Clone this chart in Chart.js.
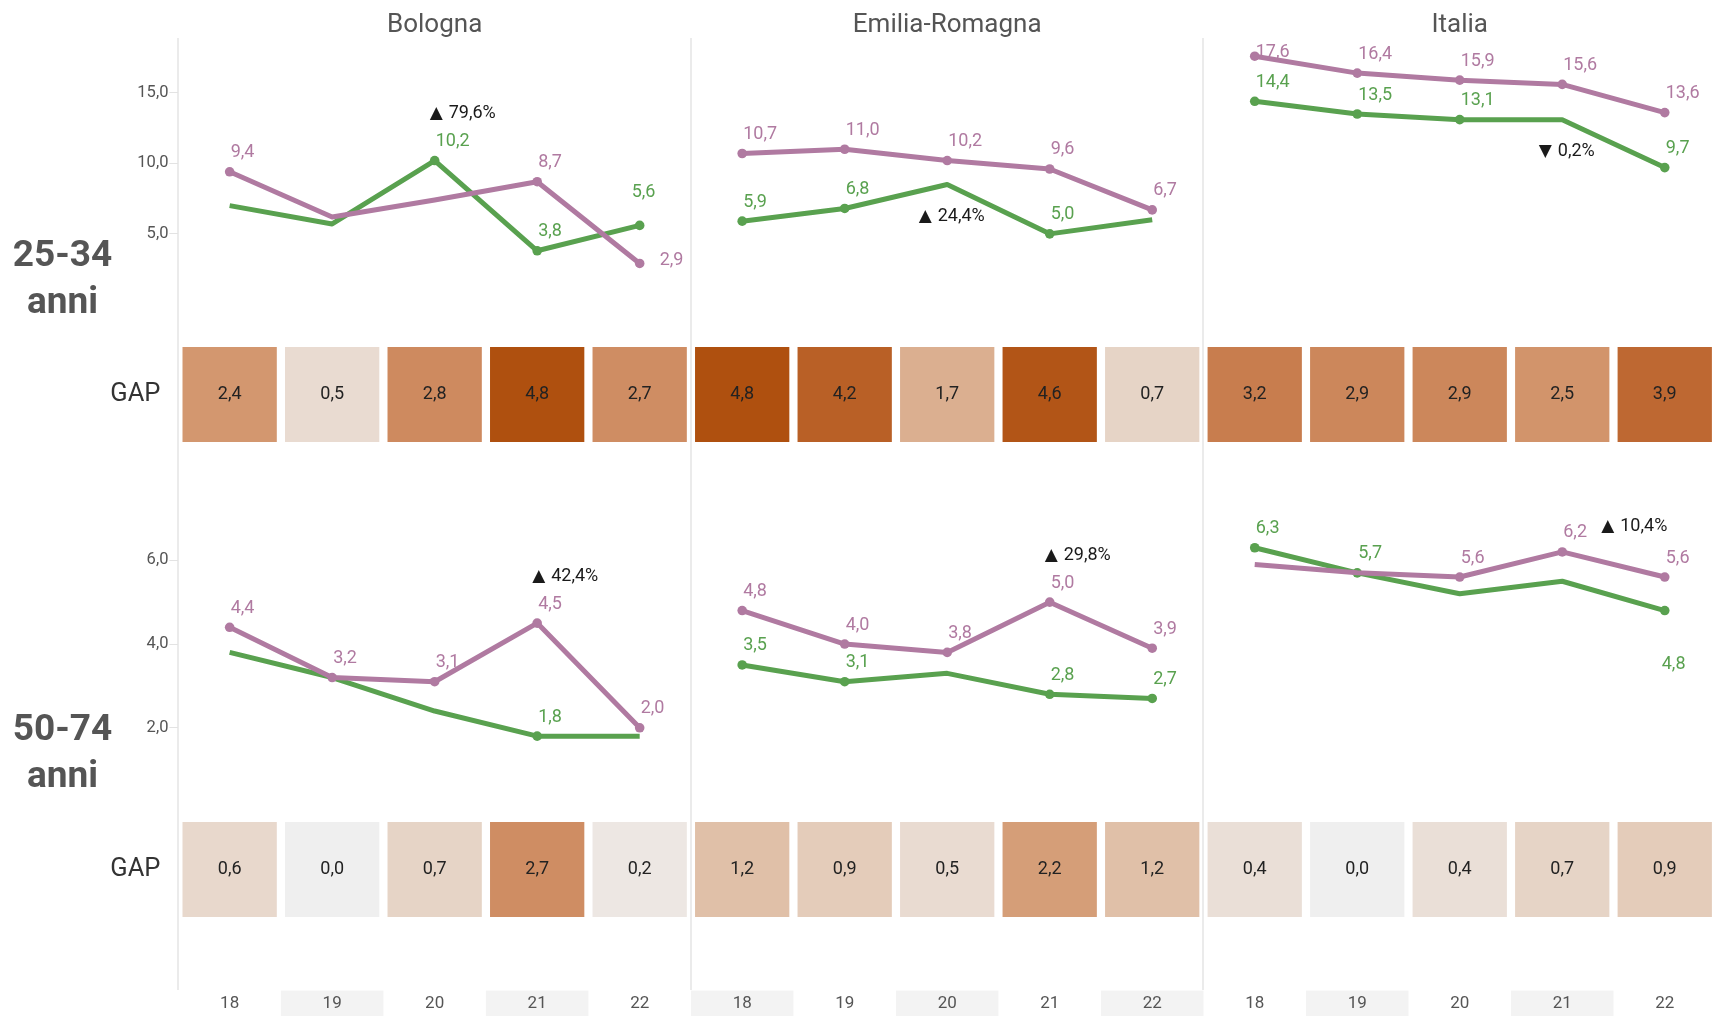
<!DOCTYPE html>
<html>
<head>
<meta charset="utf-8">
<script src="https://cdn.jsdelivr.net/npm/chart.js@4.4.1/dist/chart.umd.min.js"></script>
<style>
  html, body { margin: 0; padding: 0; background: #fff; }
  #page { position: relative; width: 1716px; height: 1016px; overflow: hidden; font-family: Roboto, "Open Sans", sans-serif; }
  #page canvas { position: absolute; left: 0; }
  .place { position: absolute; top: 5px; width: 300px; margin-left: -150px; text-align: center; font-size: 26px; line-height: 36px; color: #555; }
  .age { position: absolute; left: 0; width: 125px; text-align: center; font-size: 37px; font-weight: 700; line-height: 47px; color: #555; }
</style>
</head>
<body>
<div id="page">
  <canvas id="line25" width="1716" height="305" style="top:38px"></canvas>
  <canvas id="gap25" width="1716" height="103" style="top:343px"></canvas>
  <canvas id="line50" width="1716" height="372" style="top:446px"></canvas>
  <canvas id="gap50" width="1716" height="103" style="top:818px"></canvas>
  <canvas id="years" width="1716" height="97" style="top:921px"></canvas>
</div>
<script>
  var years = ['18', '19', '20', '21', '22'];
  var places = ['Bologna', 'Emilia-Romagna', 'Italia'];
  var ageGroups = ['25-34', '50-74'];
  var ticks25 = [5, 10, 15];
  var ticks50 = [2, 4, 6];

  // 25-34 anni
  var bologna25Purple = [9.4, 6.2, 7.4, 8.7, 2.9];
  var bologna25Green = [7.0, 5.7, 10.2, 3.8, 5.6];
  var emilia25Purple = [10.7, 11.0, 10.2, 9.6, 6.7];
  var emilia25Green = [5.9, 6.8, 8.5, 5.0, 6.0];
  var italia25Purple = [17.6, 16.4, 15.9, 15.6, 13.6];
  var italia25Green = [14.4, 13.5, 13.1, 13.1, 9.7];
  var bologna25Gap = [2.4, 0.5, 2.8, 4.8, 2.7];
  var emilia25Gap = [4.8, 4.2, 1.7, 4.6, 0.7];
  var italia25Gap = [3.2, 2.9, 2.9, 2.5, 3.9];

  // 50-74 anni
  var bologna50Purple = [4.4, 3.2, 3.1, 4.5, 2.0];
  var bologna50Green = [3.8, 3.2, 2.4, 1.8, 1.8];
  var emilia50Purple = [4.8, 4.0, 3.8, 5.0, 3.9];
  var emilia50Green = [3.5, 3.1, 3.3, 2.8, 2.7];
  var italia50Purple = [5.9, 5.7, 5.6, 6.2, 5.6];
  var italia50Green = [6.3, 5.7, 5.2, 5.5, 4.8];
  var bologna50Gap = [0.6, 0.0, 0.7, 2.7, 0.2];
  var emilia50Gap = [1.2, 0.9, 0.5, 2.2, 1.2];
  var italia50Gap = [0.4, 0.0, 0.4, 0.7, 0.9];

  // points that carry a value label (and a dot)
  var bologna25PurpleShown = [1, 0, 0, 1, 1];
  var bologna25GreenShown = [0, 0, 1, 1, 1];
  var emilia25PurpleShown = [1, 1, 1, 1, 1];
  var emilia25GreenShown = [1, 1, 0, 1, 0];
  var italia25PurpleShown = [1, 1, 1, 1, 1];
  var italia25GreenShown = [1, 1, 1, 0, 1];
  var bologna50PurpleShown = [1, 1, 1, 1, 1];
  var bologna50GreenShown = [0, 0, 0, 1, 0];
  var emilia50PurpleShown = [1, 1, 1, 1, 1];
  var emilia50GreenShown = [1, 1, 0, 1, 1];
  var italia50PurpleShown = [0, 0, 1, 1, 1];
  var italia50GreenShown = [1, 1, 0, 0, 1];

  // change callouts: place, year index, series, arrow, text, placement
  var callouts25 = [
    [0, 2, 'green', '▲', '79,6%', 'above'],
    [1, 2, 'green', '▲', '24,4%', 'below'],
    [2, 3, 'green', '▼', '0,2%', 'below']
  ];
  var callouts50 = [
    [0, 3, 'purple', '▲', '42,4%', 'above'],
    [1, 3, 'purple', '▲', '29,8%', 'above'],
    [2, 3, 'purple', '▲', '10,4%', 'right']
  ];

  var PURPLE = '#b07aa1';
  var GREEN = '#59a14f';
  var FONT = 'Roboto, "Open Sans", sans-serif';
  var AXIS_LEFT = 178.4;

  // labels that Tableau moved away from the default spot
  var labelTweaks = {
    'line25:0:purple:4': 'right',
    'line25:0:green:4': 'high',
    'line50:2:green:4': 'below'
  };

  var allYears = [].concat(years, years, years);

  function fmt(v) {
    return v.toFixed(1).replace('.', ',');
  }

  function spread(panel, values) {
    var out = allYears.map(function () { return null; });
    values.forEach(function (v, i) { out[panel * 5 + i] = v; });
    return out;
  }

  var gapStops = [
    [0, [239, 239, 239]],
    [1.2, [224, 192, 168]],
    [2.4, [211, 151, 111]],
    [3.6, [195, 112, 62]],
    [4.8, [175, 80, 15]]
  ];

  function gapColour(v) {
    for (var i = 1; i < gapStops.length; i++) {
      if (v <= gapStops[i][0] || i === gapStops.length - 1) {
        var a = gapStops[i - 1], b = gapStops[i];
        var t = Math.max(0, Math.min(1, (v - a[0]) / (b[0] - a[0])));
        var c = a[1].map(function (x, k) { return Math.round(x + (b[1][k] - x) * t); });
        return 'rgb(' + c.join(',') + ')';
      }
    }
  }

  var separators = {
    offset: true,
    drawTicks: false,
    lineWidth: 2,
    color: function (c) {
      return c.index % 5 === 0 && c.index < 15 ? '#ebebeb' : 'rgba(0,0,0,0)';
    }
  };

  function hiddenX() {
    return {
      offset: true,
      grid: separators,
      border: { display: false },
      ticks: { display: false }
    };
  }

  // fixed-width left axis that does not push the plot area in
  function fixedAxis(s) {
    s.width = AXIS_LEFT;
    s.paddingTop = 0;
    s.paddingBottom = 0;
  }

  var baseOptions = {
    responsive: false,
    animation: false,
    events: [],
    layout: { autoPadding: false, padding: 0 },
    plugins: { legend: { display: false }, tooltip: { enabled: false } }
  };

  var valueLabels = {
    id: 'valueLabels',
    afterDatasetsDraw: function (chart) {
      var ctx = chart.ctx;
      var id = chart.canvas.id;
      ctx.save();
      ctx.font = '18px ' + FONT;
      ctx.textBaseline = 'middle';
      ctx.textAlign = 'left';
      chart.data.datasets.forEach(function (ds, di) {
        var meta = chart.getDatasetMeta(di);
        meta.data.forEach(function (pt, i) {
          if (ds.data[i] === null || !ds.shown[i]) return;
          var place = labelTweaks[id + ':' + ds.panel + ':' + ds.series + ':' + (i % 5)];
          var x = pt.x + 1, y = pt.y - 19;
          if (place === 'right') { x = pt.x + 20; y = pt.y - 3; }
          if (place === 'high') { x = pt.x - 8; y = pt.y - 33; }
          if (place === 'below') { x = pt.x - 3; y = pt.y + 54; }
          y = Math.max(y, chart.chartArea.top + 14);
          ctx.fillStyle = ds.borderColor;
          ctx.fillText(fmt(ds.data[i]), x, y);
        });
      });

      ctx.fillStyle = '#1a1a1a';
      (chart.options.callouts || []).forEach(function (c) {
        var di = chart.data.datasets.findIndex(function (ds) {
          return ds.panel === c[0] && ds.series === c[2];
        });
        var pt = chart.getDatasetMeta(di).data[c[0] * 5 + c[1]];
        ctx.font = '18px ' + FONT;
        var textW = ctx.measureText(c[4]).width;
        var arrowW = 14, gap = 4;
        var left, y;
        if (c[5] === 'above') { left = pt.x - 4; y = pt.y - 47; }
        else if (c[5] === 'below') { left = pt.x + 5 - (arrowW + gap + textW) / 2; y = pt.y + 32; }
        else { left = pt.x + 40; y = pt.y - 25; }
        ctx.textAlign = 'left';
        ctx.font = '17px "DejaVu Sans", sans-serif';
        ctx.fillText(c[3], left - 1, y);
        ctx.font = '18px ' + FONT;
        ctx.fillText(c[4], left + arrowW + gap, y);
      });
      ctx.restore();
    }
  };

  function makeLine(panel, series, values, shown) {
    var colour = series === 'purple' ? PURPLE : GREEN;
    return {
      data: spread(panel, values),
      shown: spread(panel, shown),
      panel: panel,
      series: series,
      order: series === 'purple' ? 0 : 1,
      borderColor: colour,
      backgroundColor: colour,
      borderWidth: 5,
      borderJoinStyle: 'round',
      tension: 0,
      spanGaps: false,
      pointBackgroundColor: colour,
      pointBorderWidth: 0,
      pointRadius: function (c) { return c.dataset.shown[c.dataIndex] ? 4.8 : 0; }
    };
  }

  function lineChart(id, purple, green, purpleShown, greenShown, ticks, min, max, callouts) {
    var datasets = [];
    purple.forEach(function (vals, p) {
      datasets.push(makeLine(p, 'purple', vals, purpleShown[p]));
      datasets.push(makeLine(p, 'green', green[p], greenShown[p]));
    });
    return new Chart(document.getElementById(id), {
      type: 'line',
      data: { labels: allYears, datasets: datasets },
      options: Object.assign({}, baseOptions, {
        callouts: callouts,
        scales: {
          x: hiddenX(),
          y: {
            min: min,
            max: max,
            afterBuildTicks: function (s) { s.ticks = ticks.map(function (v) { return { value: v }; }); },
            afterFit: fixedAxis,
            border: { display: false },
            grid: { drawOnChartArea: false, drawTicks: true, tickLength: 9, color: '#e3e3e3' },
            ticks: {
              padding: 1,
              color: '#555',
              font: { family: FONT, size: 16.5 },
              callback: function (v) { return fmt(v); }
            }
          }
        }
      }),
      plugins: [valueLabels]
    });
  }

  var gapText = {
    id: 'gapText',
    afterDatasetsDraw: function (chart) {
      var ctx = chart.ctx;
      var ds = chart.data.datasets[0];
      var yMid = chart.scales.y.getPixelForValue(0.5);
      ctx.save();
      ctx.font = '18px ' + FONT;
      ctx.fillStyle = '#222';
      ctx.textAlign = 'center';
      ctx.textBaseline = 'middle';
      chart.getDatasetMeta(0).data.forEach(function (bar, i) {
        ctx.fillText(fmt(ds.values[i]), bar.x, yMid);
      });
      ctx.restore();
    }
  };

  function gapChart(id, gaps) {
    var values = [].concat(gaps[0], gaps[1], gaps[2]);
    return new Chart(document.getElementById(id), {
      type: 'bar',
      data: {
        labels: allYears,
        datasets: [{
          values: values,
          data: values.map(function () { return [0, 1]; }),
          backgroundColor: values.map(gapColour),
          borderWidth: 0,
          barPercentage: 0.92,
          categoryPercentage: 1
        }]
      },
      options: Object.assign({}, baseOptions, {
        scales: {
          x: hiddenX(),
          y: {
            min: -0.042,
            max: 1.042,
            afterBuildTicks: function (s) { s.ticks = [{ value: 0.5 }]; },
            afterFit: fixedAxis,
            border: { display: false },
            grid: { display: false, drawTicks: false },
            ticks: {
              padding: 18,
              color: '#333',
              font: { family: FONT, size: 25.5 },
              callback: function () { return 'GAP'; }
            }
          }
        }
      }),
      plugins: [gapText]
    });
  }

  var bands = {
    id: 'bands',
    beforeDraw: function (chart) {
      var sx = chart.scales.x;
      var w = sx.getPixelForValue(1) - sx.getPixelForValue(0);
      var top = chart.chartArea.bottom + 1;
      var ctx = chart.ctx;
      ctx.save();
      ctx.fillStyle = '#f3f3f3';
      allYears.forEach(function (y, i) {
        if (i % 2 === 1) ctx.fillRect(sx.getPixelForValue(i) - w / 2, top, w, 26);
      });
      ctx.restore();
    }
  };

  var line25 = lineChart('line25',
    [bologna25Purple, emilia25Purple, italia25Purple],
    [bologna25Green, emilia25Green, italia25Green],
    [bologna25PurpleShown, emilia25PurpleShown, italia25PurpleShown],
    [bologna25GreenShown, emilia25GreenShown, italia25GreenShown],
    ticks25, -2.74, 18.89, callouts25);

  gapChart('gap25', [bologna25Gap, emilia25Gap, italia25Gap]);

  lineChart('line50',
    [bologna50Purple, emilia50Purple, italia50Purple],
    [bologna50Green, emilia50Green, italia50Green],
    [bologna50PurpleShown, emilia50PurpleShown, italia50PurpleShown],
    [bologna50GreenShown, emilia50GreenShown, italia50GreenShown],
    ticks50, -0.155, 8.73, callouts50);

  gapChart('gap50', [bologna50Gap, emilia50Gap, italia50Gap]);

  new Chart(document.getElementById('years'), {
    type: 'line',
    data: { labels: allYears, datasets: [] },
    options: Object.assign({}, baseOptions, {
      layout: { autoPadding: false, padding: { left: AXIS_LEFT, bottom: 0, top: 0, right: 0 } },
      scales: {
        x: {
          offset: true,
          grid: separators,
          border: { display: false },
          afterFit: function (s) { s.paddingLeft = 0; s.paddingRight = 0; },
          ticks: { padding: 4, color: '#555', autoSkip: false, maxRotation: 0, font: { family: FONT, size: 17 } }
        },
        y: { display: false }
      }
    }),
    plugins: [bands]
  });

  // column titles and row headers
  var page = document.getElementById('page');
  var sx = line25.scales.x;
  places.forEach(function (name, p) {
    var el = document.createElement('div');
    el.className = 'place';
    el.style.left = ((sx.getPixelForValue(p * 5) + sx.getPixelForValue(p * 5 + 4)) / 2) + 'px';
    el.textContent = name;
    page.appendChild(el);
  });
  var ageTops = [230, 704];
  ageGroups.forEach(function (age, r) {
    var el = document.createElement('div');
    el.className = 'age';
    el.style.top = ageTops[r] + 'px';
    el.innerHTML = age + '<br>anni';
    page.appendChild(el);
  });
</script>
</body>
</html>
